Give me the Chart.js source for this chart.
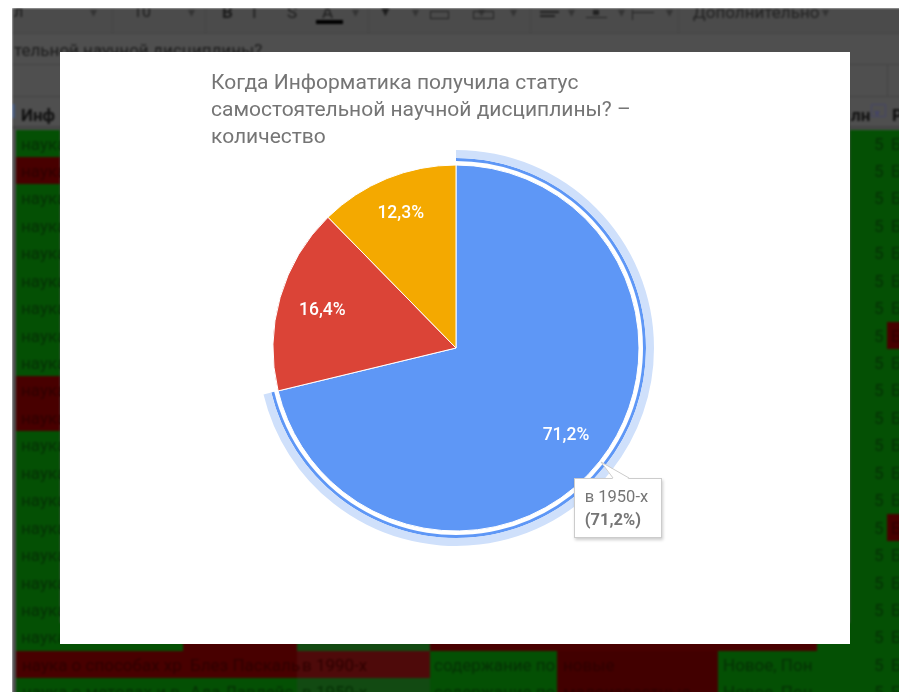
<!DOCTYPE html>
<html>
<head>
<meta charset="utf-8">
<title>Когда Информатика получила статус</title>
<script src="https://cdn.jsdelivr.net/npm/chart.js@4/dist/chart.umd.min.js"></script>
<style>
html, body { margin: 0; padding: 0; background: #fff; }
#page { position: relative; width: 899px; height: 692px; overflow: hidden; font-family: Roboto, sans-serif; }
#clip { position: absolute; left: 12px; top: 8px; width: 887px; height: 684px; overflow: hidden; }
#sheet { position: absolute; left: 0; top: 0; width: 900px; height: 700px; background: #4f4f4f; overflow: hidden; filter: blur(0.8px); }
.cell, .txt { position: absolute; white-space: nowrap; overflow: hidden; }
.txt { color: #1c1c1c; }
#panel { position: absolute; left: 60px; top: 52px; width: 790px; height: 592px; background: #fff; }
#chartBox { position: absolute; left: 151px; top: 0; width: 490px; height: 592px; }
#tip { position: absolute; display: none; width: 88px; height: 60px; box-sizing: border-box; background: #fff; border: 1px solid #ccc;
  box-shadow: 1px 2px 3px rgba(0,0,0,.2); color: #757575; font-size: 16.5px; line-height: 23px; padding: 6px 10px; white-space: nowrap; }
#tipArrow { position: absolute; display: none; overflow: visible; }
</style>
</head>
<body>
<div id="page">
  <div id="clip"><div id="sheet"></div></div>
  <div id="panel">
    <div id="chartBox"><canvas id="pieChart"></canvas></div>
    <div id="tip"></div>
    <svg id="tipArrow" width="30" height="18"><polygon points="0,0 12,17 28,17" fill="#fff"/><polyline points="0,0 12,16" fill="none" stroke="#ccc"/><polyline points="0,0 28,16" fill="none" stroke="#ccc"/></svg>
  </div>
</div>
<script>
// chart data
var chartTitle = ['Когда Информатика получила статус', 'самостоятельной научной дисциплины? –', 'количество'];
var categories = ['в 1950-х', 'в 1990-х', 'в 1970-х'];
var seriesValues = [52, 12, 9];
var sliceColors = ['#5e97f6', '#db4437', '#f4a900'];

// spreadsheet behind the chart: g = green row, r = red row
var firstColRows = ['g','r','g','g','g','g','g','g','g','r','r','g','g','g','g','g','g','g','g','r','g'];
var lastColRedRows = [7, 14];

var GREEN = '#045004', RED = '#480000';
var TXT_G = '#053005', TXT_R = '#2e0000';
var sheet = document.getElementById('sheet');

function addCell(x, y, w, h, color){
  var el = document.createElement('div');
  el.className = 'cell';
  el.style.cssText = 'left:' + (x - 12) + 'px;top:' + (y - 8) + 'px;width:' + w + 'px;height:' + h + 'px;background:' + color;
  sheet.appendChild(el);
}

function addText(x, y, str, size, bold, color){
  var el = document.createElement('div');
  el.className = 'txt';
  el.textContent = str;
  el.style.cssText = 'left:' + (x - 12) + 'px;top:' + (y - 8) + 'px;font-size:' + size + 'px;line-height:' + (size + 4) + 'px;' +
    (bold ? 'font-weight:700;' : '') + (color ? 'color:' + color : '');
  sheet.appendChild(el);
}

var rowTop = 129.5, rowH = 27.44;
var y18 = rowTop + 18 * rowH, y19 = rowTop + 19 * rowH, y20 = rowTop + 20 * rowH;

firstColRows.forEach(function (kind, i){
  var y = rowTop + i * rowH;
  addCell(16, y, 44, rowH + 0.5, kind === 'r' ? RED : GREEN);
  addCell(850, y, 60, rowH + 0.5, GREEN);
  if (lastColRedRows.indexOf(i) >= 0){
    addCell(887, y, 20, rowH + 0.5, RED);
  }
});

// rows under the panel
addCell(16, y18, 167, rowH, GREEN); addCell(183, y18, 114, rowH, RED); addCell(297, y18, 133, rowH, '#124a12'); addCell(430, y18, 387, rowH, RED); addCell(817, y18, 33, rowH, GREEN);
addCell(16, y19, 281, rowH, RED); addCell(297, y19, 133, rowH, '#4e0a0a'); addCell(430, y19, 127, rowH, GREEN);
addCell(557, y19, 161, rowH, '#420000'); addCell(718, y19, 132, rowH, GREEN);
addCell(16, y20, 281, rowH, GREEN); addCell(297, y20, 133, rowH, '#124a12'); addCell(430, y20, 127, rowH, GREEN);
addCell(557, y20, 161, rowH, '#420000'); addCell(718, y20, 132, rowH, GREEN);

firstColRows.forEach(function (kind, i){
  var y = rowTop + i * rowH;
  if (i < 19){
    addText(21, y + 4, 'наука', 17, false, kind === 'r' ? TXT_R : TXT_G);
  }
  addText(874, y + 4, '5', 17, false, TXT_G);
  addText(891, y + 4, 'Б', 17, false, lastColRedRows.indexOf(i) >= 0 ? TXT_R : TXT_G);
});

addText(22, y19 + 4, 'наука о способах хр', 17, false, TXT_R);
addText(190, y19 + 4, 'Блез Паскаль', 17, false, TXT_R);
addText(302, y19 + 4, 'в 1990-х', 17, false, TXT_R);
addText(434, y19 + 4, 'содержание по', 17, false, TXT_G);
addText(563, y19 + 4, 'новые', 17, false, TXT_R);
addText(723, y19 + 4, 'Новое, Пон', 17, false, TXT_G);
addText(22, y20 + 4, 'наука о методах и в', 17, false, TXT_G);
addText(190, y20 + 4, 'Ада Лавлейс', 17, false, TXT_G);
addText(302, y20 + 4, 'в 1950-х', 17, false, TXT_G);
addText(434, y20 + 4, 'содержание по', 17, false, TXT_G);
addText(563, y20 + 4, 'малоизвестные', 17, false, TXT_R);
addText(723, y20 + 4, 'Новое, Пон', 17, false, TXT_G);

// toolbar and header
addCell(12, 8, 900, 25, '#4b4b4b');
addCell(12, 33, 900, 1, '#444');
addCell(12, 64, 900, 1, '#444');
addCell(12, 96, 900, 1, '#444');
addCell(12, 126, 900, 3, '#444');
[112, 205, 368, 530, 678].forEach(function (x){ addCell(x, 8, 1, 25, '#454545'); });
addCell(887, 65, 1, 31, '#444');
addText(14, 2, 'л', 16, false);
addText(133, 2, '10', 16, false);
addText(222, 2, 'B', 17, true);
addText(252, 2, 'I', 17, false);
addText(287, 2, 'S', 17, false);
addText(322, 2, 'A', 17, false);
addCell(316, 20, 27, 4, '#000');
['▾ 90', '▾ 188', '▾ 352', '▾ 412', '▾ 478', '▾ 510', '▾ 568', '▾ 618', '▾ 666', '▾ 822'].forEach(function (s){
  addText(Number(s.split(' ')[1]), 3, '▾', 14, false, '#333');
});
addText(378, 2, '▼', 15, false);
addCell(430, 11, 18, 1, '#222'); addCell(430, 11, 1, 8, '#222'); addCell(448, 11, 1, 8, '#222'); addCell(430, 18, 18, 1, '#222');
addCell(473, 11, 20, 1, '#222'); addCell(473, 18, 20, 1, '#222'); addCell(473, 11, 1, 8, '#222'); addCell(493, 11, 1, 8, '#222');
addCell(540, 11, 19, 2, '#222'); addCell(540, 15, 15, 2, '#222');
addCell(586, 17, 21, 1, '#222'); addCell(593, 10, 6, 5, '#222');
addCell(632, 10, 1, 10, '#222'); addCell(632, 12, 22, 1, '#222');
addText(693, 2, 'Дополнительно', 17, false, '#222');
addText(14, 40, 'тельной научной дисциплины?', 17, false);
addText(21, 105, 'Инф', 17, true, '#111');
addText(851, 105, 'лн', 17, true, '#111');
addCell(871, 104, 14, 1, '#446'); addCell(871, 116, 14, 1, '#446'); addCell(871, 104, 1, 13, '#446'); addCell(885, 104, 1, 13, '#446');
addText(874, 105, '▾', 12, false, '#446');
addText(892, 105, 'Р', 17, true, '#111');
addCell(12, 104, 3, 14, '#46587a');

function percentText(value){
  var total = seriesValues.reduce(function (a, b){ return a + b; }, 0);
  return (value / total * 100).toFixed(1).replace('.', ',') + '%';
}

// tooltip anchors on the outer edge of the slice
Chart.Tooltip.positioners.sliceEdge = function (items){
  if (!items.length) return false;
  var arc = items[0].element.getProps(['x', 'y', 'startAngle', 'endAngle', 'outerRadius'], true);
  var mid = (arc.startAngle + arc.endAngle) / 2;
  return { x: arc.x + Math.cos(mid) * arc.outerRadius, y: arc.y + Math.sin(mid) * arc.outerRadius };
};

function drawTip(context){
  var tooltip = context.tooltip;
  var tip = document.getElementById('tip');
  var arrow = document.getElementById('tipArrow');
  if (tooltip.opacity === 0 || !tooltip.body) return;
  tip.innerHTML = '';
  var line1 = document.createElement('div');
  line1.textContent = tooltip.title[0];
  var line2 = document.createElement('div');
  line2.textContent = tooltip.body[0].lines[0];
  line2.style.fontWeight = '700';
  tip.appendChild(line1);
  tip.appendChild(line2);
  var baseX = 151 + tooltip.caretX, baseY = tooltip.caretY;
  arrow.style.display = 'block';
  arrow.style.left = (baseX + 1) + 'px';
  arrow.style.top = (baseY + 1) + 'px';
  tip.style.display = 'block';
  tip.style.left = (baseX - 26) + 'px';
  tip.style.top = (baseY + 17) + 'px';
}

var labelReach = [0.765, 0.76, 0.8];

var sliceLabels = {
  id: 'sliceLabels',
  afterDatasetsDraw: function (chart){
    var ctx = chart.ctx;
    var meta = chart.getDatasetMeta(3);
    ctx.save();
    ctx.font = '500 17.5px Roboto';
    ctx.fillStyle = '#fff';
    ctx.textAlign = 'center';
    ctx.textBaseline = 'middle';
    meta.data.forEach(function (el, i){
      var arc = el.getProps(['x', 'y', 'startAngle', 'endAngle', 'outerRadius'], true);
      var mid = (arc.startAngle + arc.endAngle) / 2;
      var r = arc.outerRadius * labelReach[i];
      ctx.fillText(percentText(seriesValues[i]), arc.x + Math.cos(mid) * r, arc.y + Math.sin(mid) * r + 1);
    });
    ctx.restore();
  }
};

var myChart = new Chart(document.getElementById('pieChart'), {
  type: 'doughnut',
  data: {
    labels: categories,
    datasets: [
      { data: seriesValues, weight: 8, borderWidth: 0, backgroundColor: ['#cfe0fb', 'transparent', 'transparent'] },
      { data: seriesValues, weight: 3, borderWidth: 0, backgroundColor: ['#5e97f6', 'transparent', 'transparent'] },
      { data: seriesValues, weight: 4, borderWidth: 0, backgroundColor: 'transparent' },
      { data: seriesValues, weight: 183, borderWidth: 1, borderColor: '#fff', backgroundColor: sliceColors }
    ]
  },
  options: {
    responsive: true,
    maintainAspectRatio: false,
    animation: false,
    events: [],
    cutout: 0,
    layout: { padding: { bottom: 98 } },
    plugins: {
      legend: { display: false },
      title: {
        display: true,
        text: chartTitle,
        align: 'start',
        color: '#757575',
        font: { family: 'Roboto', size: 21, weight: 'normal', lineHeight: '27px' },
        padding: { top: 18, bottom: -1 }
      },
      tooltip: {
        enabled: false,
        animation: false,
        position: 'sliceEdge',
        external: drawTip,
        callbacks: {
          title: function (items){ return categories[items[0].dataIndex]; },
          label: function (item){ return '(' + percentText(seriesValues[item.dataIndex]) + ')'; }
        }
      }
    }
  },
  plugins: [sliceLabels]
});

myChart.tooltip.setActiveElements([{ datasetIndex: 3, index: 0 }], { x: 0, y: 0 });
myChart.update();
</script>
</body>
</html>
